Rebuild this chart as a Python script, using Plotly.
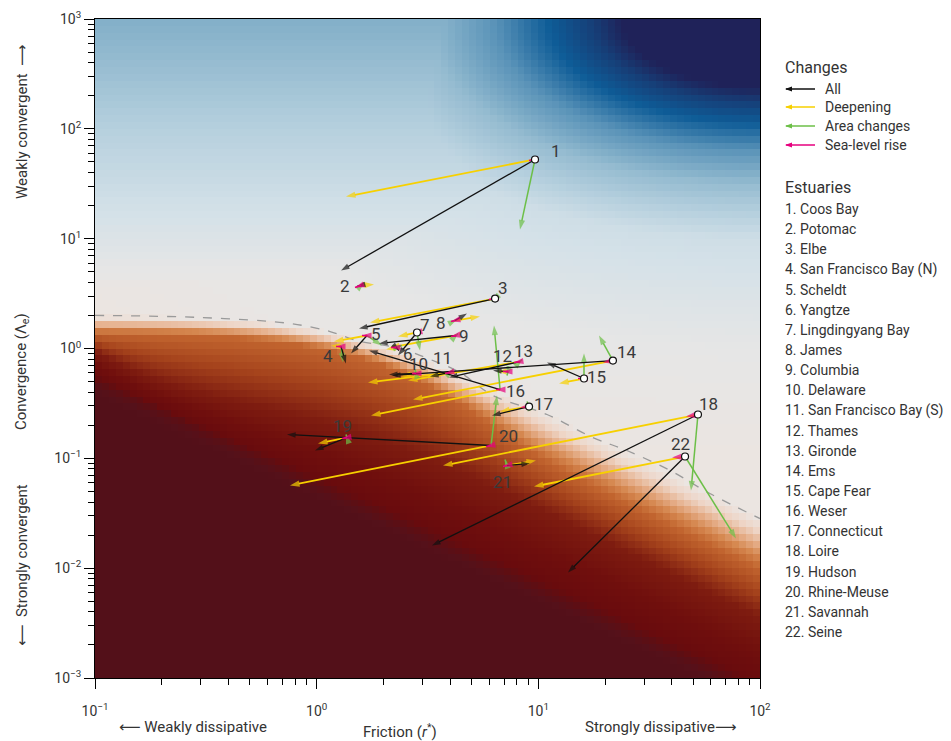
import numpy as np
import plotly.graph_objects as go

# ---------------- data ----------------
estuaries = ["Coos Bay", "Potomac", "Elbe", "San Francisco Bay (N)", "Scheldt", "Yangtze",
             "Lingdingyang Bay", "James", "Columbia", "Delaware", "San Francisco Bay (S)",
             "Thames", "Gironde", "Ems", "Cape Fear", "Weser", "Connecticut", "Loire",
             "Hudson", "Rhine-Meuse", "Savannah", "Seine"]

# initial state (friction r*, convergence Lambda_e)
r_start = [9.66, 1.585, 6.38, 1.288, 1.687, 2.28, 2.836, 4.207, 4.252, 2.806, 3.995,
           7.30, 8.27, 21.7, 16.07, 6.72, 9.08, 52.5, 1.370, 6.12, 7.22, 45.9]
lam_start = [52.6, 3.75, 2.85, 1.043, 1.313, 1.021, 1.399, 1.798, 1.313, 0.592, 0.605,
             0.617, 0.761, 0.777, 0.533, 0.423, 0.296, 0.2506, 0.1547, 0.1309, 0.0860, 0.1039]

# end state: all changes
r_all = [1.288, 1.520, 1.552, 1.356, 1.428, 2.352, 2.327, 4.767, 1.910, 2.120, 3.245,
         6.244, 3.954, 2.187, 10.94, 1.722, 6.180, 3.314, 0.983, 0.735, 9.171, 13.61]
lam_all = [5.13, 3.67, 1.521, 0.730, 0.900, 0.959, 0.864, 2.083, 1.111, 0.580, 0.556,
           0.631, 0.545, 0.568, 0.746, 0.959, 0.2455, 0.0161, 0.1178, 0.1648, 0.0897, 0.00913]

# end state: deepening only
r_deep = [1.356, 1.814, 1.740, 1.161, 1.197, 2.055, 2.327, 5.456, 2.142, 2.401, 1.704,
          6.509, 2.582, 2.720, 12.40, 1.759, 6.715, 3.715, 1.014, 0.758, 9.761, 9.561]
lam_deep = [24.2, 3.83, 1.725, 1.065, 1.158, 0.979, 1.286, 1.956, 1.021, 0.556, 0.490,
            0.617, 0.511, 0.343, 0.480, 0.2455, 0.267, 0.0860, 0.1365, 0.0566, 0.0956, 0.0554]

# end state: area changes only
r_area = [8.265, 1.635, 6.18, 1.315, 1.971, 2.426, 2.926, 4.297, 4.342, 2.777, 4.121,
          7.222, 8.438, 18.78, 16.07, 6.31, 8.889, 48.84, 1.356, 6.509, 7.073, 77.95]
lam_area = [12.12, 3.99, 2.68, 0.746, 1.065, 1.065, 0.959, 1.837, 1.370, 0.644, 0.644,
            0.568, 0.794, 1.313, 0.900, 1.620, 0.329, 0.0509, 0.1648, 0.373, 0.0976, 0.0186]

# end state: sea-level rise only
r_slr = [9.077, 1.489, 5.99, 1.222, 1.602, 2.164, 2.720, 4.036, 4.036, 2.692, 3.793,
         6.928, 7.767, 19.58, 15.10, 6.442, 8.265, 46.35, 1.301, 5.806, 6.928, 40.09]
lam_slr = [51.5, 3.59, 2.794, 1.043, 1.313, 1.021, 1.370, 1.762, 1.286, 0.592, 0.592,
           0.617, 0.746, 0.746, 0.533, 0.423, 0.290, 0.2404, 0.1516, 0.1281, 0.0842, 0.1018]

# estuaries whose start point is drawn as an open circle in the picture
open_start = [1, 3, 7, 14, 15, 17, 18, 22]

# dashed regime boundary
bound_r = [0.1, 0.298, 0.758, 1.149, 1.52, 2.38, 3.245, 4.43, 6.244, 10.94, 17.6, 25.1, 39.3, 59.4, 100]
bound_lam = [2.0, 1.915, 1.689, 1.428, 1.18, 1.0, 0.797, 0.605, 0.373, 0.2506, 0.1547,
             0.1178, 0.0775, 0.0478, 0.0283]

change_names = ["All", "Deepening", "Area changes", "Sea-level rise"]

# ---------------- styling / layout ----------------
W, H = 951, 741
L, R, T, B = 95, 760, 19, 678  # plot area in pixels
TXT = "#333333"
FONT = "Roboto, DejaVu Sans, sans-serif"
C_ALL, C_DEEP, C_AREA, C_SLR = "#111111", "#f7d000", "#6cbf47", "#e6007e"

def px2paper(px, py):
    return (px - L) / (R - L), (B - py) / (B - T)

fig = go.Figure()

# ---------------- background field ----------------
xe = np.linspace(-1, 2, 97)
ye = np.linspace(-3, 3, 97)
xc = (xe[:-1] + xe[1:]) / 2
yc = (ye[:-1] + ye[1:]) / 2
LR, LL = np.meshgrid(xc, yc)
Lc = np.log10(2.0 / (1 + (10 ** LR / 1.41) ** 1.5) ** (1 / 1.5))
d = LL - Lc
a = -d
od = 0.16 + 0.3 / (1 + np.exp(-(LR - 0.75) / 0.15))          # depth of orange band
rd = 0.32 + 0.58 * (1 - np.exp(-(LR + 1) / 0.5))              # depth of red band
ridge = -0.32 - 0.944 * (LR + 0.96)
wr = np.maximum(Lc - ridge, rd + 0.15)                         # depth of dark ridge
u = np.where(a <= od, a / od,
     np.where(a <= rd, 1 + (a - od) / (rd - od),
      np.where(a <= wr, 2 + (a - rd) / (wr - rd),
               3 + np.minimum((a - wr) / 0.3, 0.5))))
D = np.sqrt((2 - LR) ** 2 + (3 - LL) ** 2)
brad = np.interp(D, [0.62, 0.76, 0.95, 1.2, 1.5, 2.0, 3.0, 4.0], [1, 0.85, 0.7, 0.5, 0.3, 0.12, 0.03, 0])
bvert = np.interp(LL, [0.5, 1, 2, 3], [0, 0.07, 0.2, 0.36])
b = np.maximum(brad, bvert)
Z = np.where(d >= 0, b, -np.clip(u, 0, 3.5) / 3.5)

cs = [
    [0.0, "#531019"], [0.0286, "#55111a"], [0.0714, "#5e0e13"], [0.0857, "#690b0d"],
    [0.1429, "#700f0d"], [0.2143, "#7e1c10"], [0.2857, "#a5431c"], [0.3571, "#c2652f"],
    [0.3929, "#d5874f"], [0.4286, "#e6b08c"], [0.4643, "#eed6c8"],
    [0.5, "#ebe5e1"], [0.515, "#e6e6e6"], [0.55, "#d4e1e8"], [0.6, "#b6d0de"],
    [0.665, "#8bb5cc"], [0.75, "#5a93b8"], [0.85, "#0e5c97"], [0.925, "#163f78"],
    [1.0, "#1f2259"],
]
fig.add_trace(go.Heatmap(x=10 ** xe, y=10 ** ye, z=Z, colorscale=cs, zmin=-1, zmax=1,
                         showscale=False, hoverinfo="skip"))

# dashed boundary
fig.add_trace(go.Scatter(x=bound_r, y=bound_lam, mode="lines",
                         line=dict(color="#9a9a9a", width=1.3, dash="dash", shape="spline"),
                         hoverinfo="skip"))

# ---------------- arrows ----------------
def arrow_trace(rx, ly, color, width, head):
    xs, ys, sz = [], [], []
    for i in range(len(r_start)):
        xs += [r_start[i], rx[i], None]
        ys += [lam_start[i], ly[i], None]
        sz += [0, head, 0]
    return go.Scatter(x=xs, y=ys, mode="lines+markers",
                      line=dict(color=color, width=width),
                      marker=dict(symbol="arrow", size=sz, color=color, angleref="previous",
                                  line=dict(width=0)),
                      hoverinfo="skip")

fig.add_trace(arrow_trace(r_deep, lam_deep, C_DEEP, 1.8, 10))
fig.add_trace(arrow_trace(r_area, lam_area, C_AREA, 1.5, 10))
fig.add_trace(arrow_trace(r_all, lam_all, C_ALL, 1.3, 9))
fig.add_trace(arrow_trace(r_slr, lam_slr, C_SLR, 1.5, 10))

# open start points
idx = [k - 1 for k in open_start]
fig.add_trace(go.Scatter(x=[r_start[i] for i in idx], y=[lam_start[i] for i in idx],
                         mode="markers",
                         marker=dict(symbol="circle", size=7, color="white",
                                     line=dict(color="#111111", width=1.2)),
                         hoverinfo="skip"))

# estuary number labels (pixel offsets)
label_off = [(21, -8), (-16, 1), (8, -11), (-13, 10), (9, -2), (12, 6), (8, -7), (-14, 2),
             (8, 0), (3, -10), (-8, -14), (-6, -16), (3, -11), (14, -9), (12, -2), (15, 1),
             (14, -3), (11, -11), (-4, -12), (17, -9), (-4, 16), (-5, -13)]
ann = []
for i in range(len(r_start)):
    dx, dy = label_off[i]
    ann.append(dict(x=np.log10(r_start[i]), y=np.log10(lam_start[i]), xref="x", yref="y",
                    text=str(i + 1), showarrow=False, xshift=dx, yshift=-dy,
                    font=dict(family=FONT, size=17, color="#3a3a3a")))

def add_text(px, py, text, size=15, angle=0, anchor="center"):
    xp, yp = px2paper(px, py)
    ann.append(dict(x=xp, y=yp, xref="paper", yref="paper", text=text, showarrow=False,
                    textangle=angle, xanchor=anchor, yanchor="middle",
                    font=dict(family=FONT, size=size, color=TXT)))

add_text(22, 372, "Convergence (Λ<sub>e</sub>)", angle=-90)
add_text(22, 122, "Weakly convergent  ⟶", angle=-90)
add_text(22, 565, "⟵  Strongly convergent", angle=-90)
add_text(400, 731, "Friction (<i>r</i><sup>*</sup>)")
add_text(193, 727, "⟵ Weakly dissipative")
add_text(660, 727, "Strongly dissipative⟶")

# legend: changes (line + arrowhead drawn as shapes)
shapes = []
add_text(783, 67, "Changes", size=16, anchor="left")
leg_colors = [C_ALL, C_DEEP, C_AREA, C_SLR]
leg_rows = [89, 107, 126, 145]
for name, col, py in zip(change_names, leg_colors, leg_rows):
    x0, yp = px2paper(786, py)
    x1, _ = px2paper(815, py)
    shapes.append(dict(type="line", xref="paper", yref="paper", x0=x0, x1=x1, y0=yp, y1=yp,
                       line=dict(color=col, width=1.5)))
    shapes.append(dict(type="path", xref="paper", yref="paper", xsizemode="pixel",
                       ysizemode="pixel", xanchor=x0, yanchor=yp,
                       path="M-1,0 L6,2.6 L6,-2.6 Z", fillcolor=col, line=dict(width=0)))
    add_text(823, py, name, size=14, anchor="left")

# legend: estuaries
add_text(783, 187, "Estuaries", size=16, anchor="left")
for i, name in enumerate(estuaries):
    add_text(783, 209 + 20.14 * i, f"{i + 1}. {name}", size=14, anchor="left")

# ---------------- axes ----------------
def minor_vals(lo, hi):
    return [m * 10 ** e for e in range(lo, hi) for m in range(2, 10)]

sup = lambda p: "10<sup>" + ("−" + str(-p) if p < 0 else str(p)) + "</sup>"

axis_common = dict(type="log", showline=True, linecolor="black", linewidth=1, mirror=True,
                   ticks="outside", ticklen=10, tickcolor="black", showgrid=False,
                   zeroline=False, automargin=False,
                   tickfont=dict(family=FONT, size=14, color=TXT))

fig.update_xaxes(range=[-1, 2], tickvals=[0.1, 1, 10, 100],
                 ticktext=[sup(p) for p in range(-1, 3)],
                 minor=dict(tickvals=minor_vals(-1, 2), ticks="outside", ticklen=6,
                            tickcolor="black", showgrid=False),
                 ticklabelstandoff=10, **axis_common)
fig.update_yaxes(range=[-3, 3], tickvals=[10.0 ** p for p in range(-3, 4)],
                 ticktext=[sup(p) for p in range(-3, 4)],
                 minor=dict(tickvals=minor_vals(-3, 3), ticks="outside", ticklen=6,
                            tickcolor="black", showgrid=False),
                 **axis_common)

fig.update_layout(width=W, height=H, margin=dict(l=L, r=W - R, t=T, b=H - B),
                  paper_bgcolor="white", plot_bgcolor="white", showlegend=False,
                  annotations=ann, shapes=shapes, font=dict(family=FONT, color=TXT))

fig.write_html("out.html", config={"displayModeBar": False},
               post_script="document.body.style.margin='0';document.body.style.overflow='hidden';")
